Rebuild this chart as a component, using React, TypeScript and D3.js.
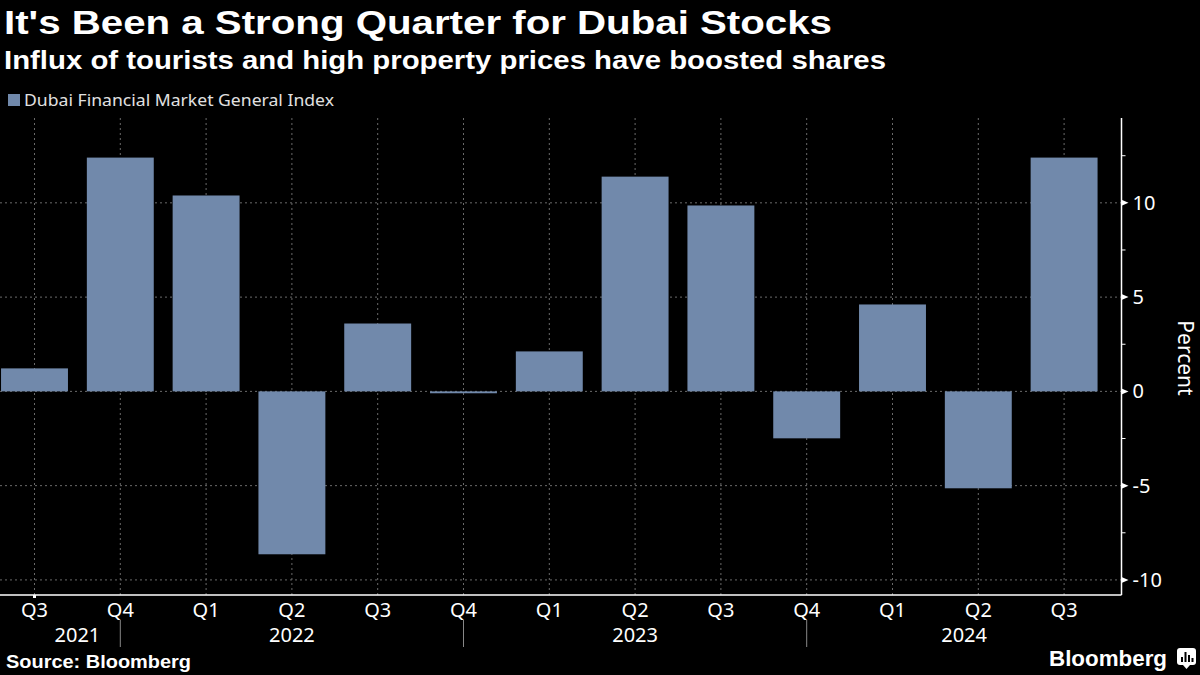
import React from "react";
import * as d3 from "d3";

const quarters = ["Q3", "Q4", "Q1", "Q2", "Q3", "Q4", "Q1", "Q2", "Q3", "Q4", "Q1", "Q2", "Q3"];
const years = [2021, 2021, 2022, 2022, 2022, 2022, 2023, 2023, 2023, 2023, 2024, 2024, 2024];
const values = [1.22, 12.4, 10.39, -8.64, 3.6, -0.1, 2.12, 11.39, 9.86, -2.49, 4.61, -5.14, 12.4];
const yTicks = [-10, -5, 0, 5, 10];
const yMinorTicks = [-7.5, -2.5, 2.5, 7.5, 12.5];
const yearLabels = ["2021", "2022", "2023", "2024"];

const W = 1200;
const H = 675;
const plotTop = 118;
const plotBottom = 595;
const axisX = 1121.5;
const barColor = "#7189ab";
const gridColor = "#6a6a6a";
const font = "'Noto Sans', 'DejaVu Sans', sans-serif";
const boldFont = "'Liberation Sans', Arial, sans-serif";

export default function App() {
  const ids = quarters.map((_, i) => String(i));
  const x = d3.scaleBand<string>().domain(ids).range([-8.4, 1107]).paddingInner(0.22).paddingOuter(0.11);
  const y = d3.scaleLinear().domain([-10.8, 14.5]).range([plotBottom, plotTop]);
  const cx = (i: number) => (x(String(i)) as number) + x.bandwidth() / 2;

  const sepIdx = quarters.map((q, i) => (q === "Q4" ? i : -1)).filter((i) => i >= 0);
  const yearPos = yearLabels.map((yl, k) => {
    const idxs = years.map((yy, i) => (String(yy) === yl ? i : -1)).filter((i) => i >= 0);
    if (k === 0) return (cx(idxs[0]) + cx(sepIdx[0])) / 2;
    const left = cx(sepIdx[k - 1]);
    const right = k < sepIdx.length ? cx(sepIdx[k]) : axisX;
    return (left + right) / 2;
  });

  return (
    <svg width={W} height={H} style={{ position: "absolute", left: 0, top: 0, background: "#000" }}>
      <rect x={0} y={0} width={W} height={H} fill="#000" />
      <text x={4} y={34} fill="#fff" fontFamily={boldFont} fontWeight="bold" fontSize={33} textLength={828} lengthAdjust="spacingAndGlyphs">
        It's Been a Strong Quarter for Dubai Stocks
      </text>
      <text x={4} y={69} fill="#fff" fontFamily={boldFont} fontWeight="bold" fontSize={25} textLength={882} lengthAdjust="spacingAndGlyphs">
        Influx of tourists and high property prices have boosted shares
      </text>
      <rect x={8} y={94} width={12} height={12} fill={barColor} />
      <text x={24} y={106} fill="#e0e0e0" fontFamily={font} fontSize={16} textLength={310} lengthAdjust="spacingAndGlyphs">
        Dubai Financial Market General Index
      </text>

      {yTicks.map((t) => (
        <line key={"hg" + t} x1={0} x2={axisX} y1={y(t)} y2={y(t)} stroke={gridColor} strokeWidth={1} strokeDasharray="2,3" />
      ))}
      {quarters.map((_, i) => (
        <line key={"vg" + i} x1={cx(i)} x2={cx(i)} y1={plotTop} y2={plotBottom} stroke={gridColor} strokeWidth={1} strokeDasharray="2,3" />
      ))}

      {values.map((v, i) => (
        <rect
          key={"b" + i}
          x={x(String(i))}
          width={x.bandwidth()}
          y={Math.min(y(v), y(0))}
          height={Math.max(Math.abs(y(v) - y(0)), 1.5)}
          fill={barColor}
        />
      ))}

      <line x1={0} x2={axisX} y1={plotBottom} y2={plotBottom} stroke="#fff" strokeWidth={1.5} />
      <line x1={axisX} x2={axisX} y1={plotTop} y2={plotBottom} stroke="#fff" strokeWidth={1.5} />
      <rect x={cx(0) - 1.5} y={plotBottom} width={3} height={3} fill="#fff" />
      {yTicks.map((t) => (
        <g key={"yt" + t}>
          <path d={`M${axisX},${y(t) - 3} L${axisX + 7},${y(t)} L${axisX},${y(t) + 3} Z`} fill="#fff" />
          <text x={axisX + 11} y={y(t) + 7} fill="#fff" fontFamily={font} fontSize={20}>
            {t}
          </text>
        </g>
      ))}
      {yMinorTicks.map((t) => (
        <line key={"ym" + t} x1={axisX} x2={axisX + 4} y1={y(t)} y2={y(t)} stroke="#fff" strokeWidth={1} />
      ))}
      <text transform={`translate(1178,358) rotate(90)`} textAnchor="middle" fill="#fff" fontFamily={font} fontSize={21}>
        Percent
      </text>

      {quarters.map((q, i) => (
        <text key={"q" + i} x={cx(i)} y={617} textAnchor="middle" fill="#fff" fontFamily={font} fontSize={20}>
          {q}
        </text>
      ))}
      {sepIdx.map((i) => (
        <line key={"sep" + i} x1={cx(i)} x2={cx(i)} y1={620} y2={647} stroke="#888" strokeWidth={1} />
      ))}
      {yearLabels.map((yl, k) => (
        <text key={"y" + yl} x={yearPos[k]} y={642} textAnchor="middle" fill="#fff" fontFamily={font} fontSize={20}>
          {yl}
        </text>
      ))}

      <text x={6} y={668} fill="#fff" fontFamily={boldFont} fontWeight="bold" fontSize={18} textLength={185} lengthAdjust="spacingAndGlyphs">
        Source: Bloomberg
      </text>
      <text x={1049} y={666} fill="#fff" fontFamily={boldFont} fontWeight="bold" fontSize={22} textLength={118} lengthAdjust="spacingAndGlyphs">
        Bloomberg
      </text>
      <rect x={1177} y={648} width={19} height={17} rx={3} fill="#fff" />
      <path d="M1183,665 L1186.5,669 L1190,665 Z" fill="#fff" />
      <rect x={1181} y={657} width={2} height={5} fill="#000" />
      <rect x={1184.5} y={652} width={2} height={10} fill="#000" />
      <rect x={1188} y={655} width={2} height={7} fill="#000" />
      <rect x={1191.5} y={658} width={2} height={4} fill="#000" />
    </svg>
  );
}
